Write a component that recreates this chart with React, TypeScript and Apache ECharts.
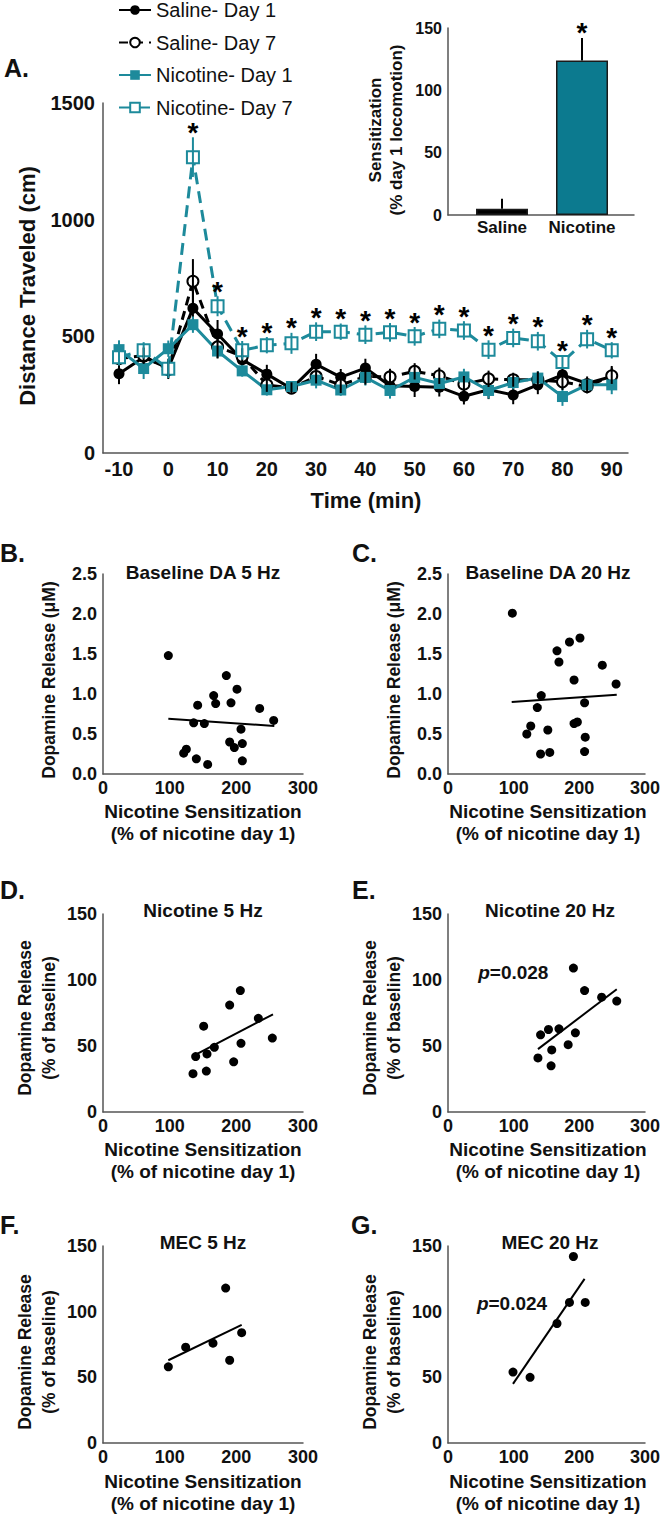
import React, { useEffect, useRef } from 'react';
import * as echarts from 'echarts';

const FONT = "'Liberation Sans', Arial, Helvetica, sans-serif";
const TEAL = '#1d8a9b';
const TEAL_BAR = '#0c7a8f';
const AX = '#555';

// ---------- Panel A: locomotion time course ----------
const TIME = [-10, -5, 0, 5, 10, 15, 20, 25, 30, 35, 40, 45, 50, 55, 60, 65, 70, 75, 80, 85, 90];
const TIME_TICKS = [-10, 0, 10, 20, 30, 40, 50, 60, 70, 80, 90];
const SAL_D1 = [340, 410, 364, 620, 510, 400, 338, 276, 380, 325, 364, 288, 285, 282, 243, 271, 249, 292, 335, 298, 328];
const SAL_D1_ERR = [45, 35, 40, 80, 60, 35, 40, 20, 45, 35, 40, 30, 45, 40, 35, 40, 40, 40, 35, 30, 45];
const SAL_D7 = [405, 417, 357, 736, 455, 414, 292, 278, 328, 292, 328, 326, 350, 331, 295, 318, 314, 314, 305, 285, 331];
const SAL_D7_ERR = [35, 35, 40, 95, 50, 35, 30, 25, 30, 35, 35, 35, 35, 35, 35, 35, 30, 35, 35, 30, 35];
const NIC_D1 = [443, 362, 447, 550, 437, 352, 271, 285, 312, 270, 324, 268, 324, 298, 326, 268, 302, 321, 242, 292, 292];
const NIC_D1_ERR = [40, 45, 35, 35, 30, 25, 25, 20, 35, 25, 35, 35, 30, 40, 35, 35, 30, 30, 40, 25, 40];
const NIC_D7 = [410, 440, 361, 1268, 629, 440, 462, 470, 520, 520, 507, 517, 500, 532, 525, 443, 493, 479, 390, 488, 440];
const NIC_D7_ERR = [35, 35, 40, 85, 43, 40, 35, 45, 40, 35, 40, 40, 40, 40, 40, 40, 40, 40, 30, 40, 35];
const STAR_TIMES = [5, 10, 15, 20, 25, 30, 35, 40, 45, 50, 55, 60, 65, 70, 75, 80, 85, 90];
const SERIES_NAMES = ['Saline- Day 1', 'Saline- Day 7', 'Nicotine- Day 1', 'Nicotine- Day 7'];

// ---------- Inset: sensitization ----------
const INSET_CATS = ['Saline', 'Nicotine'];
const INSET_VALS = [5, 124];
const INSET_ERR = [8, 18];
const INSET_STARS = [2];

// ---------- Panels B-G: correlations ----------
const B_X = [98, 185, 201, 166, 142, 169, 192, 235, 256, 136, 152, 207, 190, 209, 197, 125, 121, 140, 157, 209];
const B_Y = [1.48, 1.23, 1.06, 0.98, 0.86, 0.88, 0.89, 0.82, 0.67, 0.64, 0.63, 0.56, 0.40, 0.38, 0.33, 0.31, 0.26, 0.19, 0.12, 0.165];
const B_FIT = [[98, 0.69], [257, 0.60]];
const C_X = [98, 166, 185, 201, 169, 235, 192, 256, 142, 208, 136, 126, 152, 120, 192, 197, 209, 141, 155, 208];
const C_Y = [2.01, 1.54, 1.65, 1.70, 1.40, 1.36, 1.175, 1.125, 0.98, 0.89, 0.83, 0.60, 0.55, 0.50, 0.63, 0.65, 0.46, 0.25, 0.27, 0.28];
const C_FIT = [[97, 0.90], [257, 0.99]];
const D_X = [206, 190, 151, 233, 254, 207, 167, 156, 139, 196, 155, 135];
const D_Y = [92, 81, 65, 71, 56, 52, 49, 44, 42, 38, 31, 29];
const D_FIT = [[139, 43.5], [255, 74]];
const E_X = [191, 208, 234, 257, 169, 153, 141, 194, 183, 158, 137, 157];
const E_Y = [109, 92, 87, 84, 63, 62.5, 58.5, 60, 51, 47, 41, 35];
const E_FIT = [[137, 47.6], [257, 93]];
const F_X = [184, 208, 165, 124, 190, 98];
const F_Y = [118, 84, 76, 73, 63, 58];
const F_FIT = [[98, 63], [208, 90]];
const G_X = [191, 209, 185, 166, 99, 125];
const G_Y = [142, 107, 107, 91, 54, 50];
const G_FIT = [[99, 45], [208, 125]];
const P_LABELS = [
  { panel: 5, x: 46, y: 106, text: '=0.028' },
  { panel: 7, x: 44, y: 106, text: '=0.024' },
];

const zip = (xs: number[], ys: number[]) => xs.map((x, i) => [x, ys[i]]);

function axisLineStyle() {
  return { show: true, onZero: false, lineStyle: { color: AX, width: 1.5 } };
}

function errSeries(axis: number, data: number[][], color: string, z: number, oneSided = false) {
  return {
    type: 'custom',
    xAxisIndex: axis,
    yAxisIndex: axis,
    z,
    silent: true,
    data,
    renderItem: (_p: any, api: any) => {
      const x = api.value(0);
      const y = api.value(1);
      const e = api.value(2);
      const a = api.coord([x, y + e]);
      const b = api.coord([x, oneSided ? y : y - e]);
      return {
        type: 'line',
        shape: { x1: a[0], y1: a[1], x2: b[0], y2: b[1] },
        style: { stroke: color, lineWidth: 2 },
      };
    },
  };
}

function starSeries(axis: number, data: number[][]) {
  return {
    type: 'custom',
    xAxisIndex: axis,
    yAxisIndex: axis,
    z: 5,
    silent: true,
    data,
    renderItem: (_p: any, api: any) => {
      const c = api.coord([api.value(0), api.value(1)]);
      return {
        type: 'text',
        x: c[0],
        y: c[1] - 5,
        style: {
          text: '*',
          fontSize: 28,
          lineHeight: 14,
          fontWeight: 'bold',
          fontFamily: FONT,
          fill: '#000',
          align: 'center',
          verticalAlign: 'middle',
        },
      };
    },
  };
}

function txt(x: number, y: number, text: string, size: number, o: any = {}) {
  return {
    type: 'text',
    x,
    y,
    rotation: o.rot || 0,
    silent: true,
    style: {
      text,
      fill: '#111',
      fontSize: size,
      fontWeight: o.weight || 'bold',
      fontFamily: FONT,
      align: o.align || 'center',
      verticalAlign: 'middle',
      lineHeight: o.lh || size * 1.2,
    },
  };
}

function buildOption() {
  const grids = [
    { left: 103, top: 103, width: 525, height: 350 }, // A
    { left: 448, top: 28, width: 186, height: 187 }, // inset
    { left: 103, top: 574, width: 200, height: 200 }, // B
    { left: 448, top: 574, width: 200, height: 200 }, // C
    { left: 103, top: 914, width: 200, height: 198 }, // D
    { left: 448, top: 914, width: 200, height: 198 }, // E
    { left: 103, top: 1246, width: 200, height: 197 }, // F
    { left: 448, top: 1246, width: 200, height: 197 }, // G
  ];

  const labelStyle = (size: number, margin: number) => ({
    fontSize: size,
    fontWeight: 'bold',
    fontFamily: FONT,
    color: '#111',
    margin,
  });

  const xAxes: any[] = [
    {
      gridIndex: 0,
      type: 'value',
      min: -13.25,
      max: 93.3,
      axisLine: axisLineStyle(),
      axisTick: { show: false },
      splitLine: { show: false },
      axisLabel: { ...labelStyle(20, 6), customValues: TIME_TICKS, formatter: (v: number) => String(v) },
    },
    {
      gridIndex: 1,
      type: 'value',
      min: 0.325,
      max: 2.65,
      axisLine: axisLineStyle(),
      axisTick: { show: false },
      splitLine: { show: false },
      axisLabel: {
        ...labelStyle(17, 4),
        customValues: [1, 2],
        formatter: (v: number) => INSET_CATS[Math.round(v) - 1],
      },
    },
  ];
  const yAxes: any[] = [
    {
      gridIndex: 0,
      type: 'value',
      min: 0,
      max: 1500,
      interval: 500,
      axisLine: axisLineStyle(),
      axisTick: { show: false },
      splitLine: { show: false },
      axisLabel: { ...labelStyle(20, 8), formatter: (v: number) => String(v) },
    },
    {
      gridIndex: 1,
      type: 'value',
      min: 0,
      max: 150,
      interval: 50,
      axisLine: axisLineStyle(),
      axisTick: { show: false },
      splitLine: { show: false },
      axisLabel: { ...labelStyle(16, 6), formatter: (v: number) => String(v) },
    },
  ];
  for (let g = 2; g < 8; g++) {
    xAxes.push({
      gridIndex: g,
      type: 'value',
      min: 0,
      max: 300,
      interval: 100,
      axisLine: axisLineStyle(),
      axisTick: { show: false },
      splitLine: { show: false },
      axisLabel: { ...labelStyle(18, 5), formatter: (v: number) => String(v) },
    });
    const isB = g < 4;
    yAxes.push({
      gridIndex: g,
      type: 'value',
      min: 0,
      max: isB ? 2.5 : 150,
      interval: isB ? 0.5 : 50,
      axisLine: axisLineStyle(),
      axisTick: { show: false },
      splitLine: { show: false },
      axisLabel: {
        ...labelStyle(18, 6),
        formatter: isB ? (v: number) => v.toFixed(1) : (v: number) => String(v),
      },
    });
  }

  const series: any[] = [];
  series.push(errSeries(0, TIME.map((t, i) => [t, SAL_D1[i], SAL_D1_ERR[i]]), '#000', 1));
  series.push(errSeries(0, TIME.map((t, i) => [t, NIC_D1[i], NIC_D1_ERR[i]]), TEAL, 1));
  series.push({
    name: SERIES_NAMES[0],
    type: 'line',
    xAxisIndex: 0,
    yAxisIndex: 0,
    data: zip(TIME, SAL_D1),
    symbol: 'circle',
    symbolSize: 11,
    lineStyle: { color: '#000', width: 3 },
    itemStyle: { color: '#000' },
    z: 2,
  });
  series.push({
    name: SERIES_NAMES[1],
    type: 'line',
    xAxisIndex: 0,
    yAxisIndex: 0,
    data: zip(TIME, SAL_D7),
    symbol: 'emptyCircle',
    symbolSize: 11,
    lineStyle: { color: '#000', width: 3, type: [9, 6] },
    itemStyle: { color: '#000', borderWidth: 2 },
    z: 2,
  });
  series.push({
    name: SERIES_NAMES[2],
    type: 'line',
    xAxisIndex: 0,
    yAxisIndex: 0,
    data: zip(TIME, NIC_D1),
    symbol: 'rect',
    symbolSize: 11,
    lineStyle: { color: TEAL, width: 3 },
    itemStyle: { color: TEAL },
    z: 2,
  });
  series.push({
    name: SERIES_NAMES[3],
    type: 'line',
    xAxisIndex: 0,
    yAxisIndex: 0,
    data: zip(TIME, NIC_D7),
    symbol: 'emptyRect',
    symbolSize: 12,
    lineStyle: { color: TEAL, width: 3, type: [12, 7] },
    itemStyle: { color: TEAL, borderWidth: 2 },
    z: 2,
  });
  series.push(errSeries(0, TIME.map((t, i) => [t, SAL_D7[i], SAL_D7_ERR[i]]), '#000', 3));
  series.push(errSeries(0, TIME.map((t, i) => [t, NIC_D7[i], NIC_D7_ERR[i]]), TEAL, 3));
  series.push(
    starSeries(
      0,
      STAR_TIMES.map((t) => {
        const i = TIME.indexOf(t);
        return [t, NIC_D7[i] + NIC_D7_ERR[i]];
      })
    )
  );

  // inset bars
  series.push({
    type: 'bar',
    xAxisIndex: 1,
    yAxisIndex: 1,
    barWidth: 52,
    silent: true,
    data: INSET_CATS.map((_c, i) => ({
      value: [i + 1, INSET_VALS[i]],
      itemStyle: { color: i === 0 ? '#000' : TEAL_BAR, borderColor: '#1a1a1a', borderWidth: 1.5 },
    })),
    z: 2,
  });
  series.push(errSeries(1, INSET_CATS.map((_c, i) => [i + 1, INSET_VALS[i], INSET_ERR[i]]), '#000', 3, true));
  series.push(starSeries(1, INSET_STARS.map((k) => [k, INSET_VALS[k - 1] + INSET_ERR[k - 1]])));

  // scatter panels
  const panels = [
    [B_X, B_Y, B_FIT],
    [C_X, C_Y, C_FIT],
    [D_X, D_Y, D_FIT],
    [E_X, E_Y, E_FIT],
    [F_X, F_Y, F_FIT],
    [G_X, G_Y, G_FIT],
  ] as any[];
  panels.forEach((p, k) => {
    const ax = k + 2;
    series.push({
      type: 'scatter',
      xAxisIndex: ax,
      yAxisIndex: ax,
      data: zip(p[0], p[1]),
      symbol: 'circle',
      symbolSize: 9,
      itemStyle: { color: '#000', opacity: 1 },
      silent: true,
      z: 3,
    });
    series.push({
      type: 'line',
      xAxisIndex: ax,
      yAxisIndex: ax,
      data: p[2],
      symbol: 'none',
      lineStyle: { color: '#000', width: 2 },
      silent: true,
      z: 2,
    });
  });
  P_LABELS.forEach((pl) => {
    series.push({
      type: 'custom',
      xAxisIndex: pl.panel,
      yAxisIndex: pl.panel,
      silent: true,
      data: [[pl.x, pl.y]],
      renderItem: (_p: any, api: any) => {
        const c = api.coord([api.value(0), api.value(1)]);
        return {
          type: 'text',
          x: c[0],
          y: c[1],
          style: {
            text: '{i|p}{n|' + pl.text + '}',
            align: 'left',
            verticalAlign: 'middle',
            rich: {
              i: { fontSize: 19, fontWeight: 'bold', fontStyle: 'italic', fontFamily: FONT, fill: '#111' },
              n: { fontSize: 19, fontWeight: 'bold', fontFamily: FONT, fill: '#111' },
            },
          },
        };
      },
    });
  });

  const up = Math.PI / 2;
  const xt = 'Nicotine Sensitization\n(% of nicotine day 1)';
  const yt = 'Dopamine Release\n(% of baseline)';
  const elements: any[] = [
    txt(4, 68, 'A.', 25, { align: 'left' }),
    txt(27, 286, 'Distance Traveled (cm)', 22, { rot: up }),
    txt(366, 500, 'Time (min)', 22),
    txt(386, 130, 'Sensitization\n(% day 1 locomotion)', 17, { rot: up, lh: 21 }),
    // B / C
    txt(0, 553, 'B.', 25, { align: 'left' }),
    txt(352, 553, 'C.', 25, { align: 'left' }),
    txt(203, 572, 'Baseline DA 5 Hz', 19),
    txt(548, 572, 'Baseline DA 20 Hz', 19),
    txt(49, 680, 'Dopamine Release (\u03bcM)', 17.5, { rot: up }),
    txt(394, 680, 'Dopamine Release (\u03bcM)', 17.5, { rot: up }),
    txt(203, 822, xt, 19, { lh: 22 }),
    txt(548, 822, xt, 19, { lh: 22 }),
    // D / E
    txt(0, 890, 'D.', 25, { align: 'left' }),
    txt(352, 890, 'E.', 25, { align: 'left' }),
    txt(203, 910, 'Nicotine 5 Hz', 19),
    txt(550, 910, 'Nicotine 20 Hz', 19),
    txt(37, 1018, yt, 17.5, { rot: up, lh: 24 }),
    txt(382, 1018, yt, 17.5, { rot: up, lh: 24 }),
    txt(203, 1160, xt, 19, { lh: 22 }),
    txt(548, 1160, xt, 19, { lh: 22 }),
    // F / G
    txt(0, 1225, 'F.', 25, { align: 'left' }),
    txt(351, 1225, 'G.', 25, { align: 'left' }),
    txt(203, 1242, 'MEC 5 Hz', 19),
    txt(550, 1242, 'MEC 20 Hz', 19),
    txt(37, 1352, yt, 17.5, { rot: up, lh: 24 }),
    txt(382, 1352, yt, 17.5, { rot: up, lh: 24 }),
    txt(203, 1492, xt, 19, { lh: 22 }),
    txt(548, 1492, xt, 19, { lh: 22 }),
  ];

  return {
    animation: false,
    backgroundColor: '#fff',
    textStyle: { fontFamily: FONT },
    grid: grids,
    xAxis: xAxes,
    yAxis: yAxes,
    legend: {
      orient: 'vertical',
      left: 118,
      top: 0,
      padding: 0,
      itemWidth: 32,
      itemHeight: 12,
      itemGap: 12.5,
      selectedMode: false,
      data: SERIES_NAMES,
      textStyle: { fontSize: 20, fontFamily: FONT, color: '#111', lineHeight: 20 },
    },
    series,
    graphic: { elements },
  };
}

export default function App() {
  const ref = useRef<HTMLDivElement>(null);
  useEffect(() => {
    document.body.style.margin = '0';
    const chart = echarts.init(ref.current as HTMLDivElement, null, { renderer: 'svg' });
    chart.setOption(buildOption() as any);
    return () => chart.dispose();
  }, []);
  return <div ref={ref} style={{ width: 663, height: 1517 }} />;
}
